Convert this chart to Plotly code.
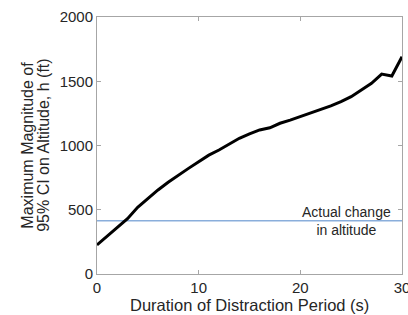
import plotly.graph_objects as go

duration_s = [0, 1, 2, 3, 4, 5, 6, 7, 8, 9, 10, 11, 12, 13, 14, 15, 16, 17, 18, 19, 20, 21, 22, 23, 24, 25, 26, 27, 28, 29, 30]
max_ci_ft = [226, 295, 360, 430, 519, 588, 654, 714, 770, 822, 874, 925, 965, 1010, 1056, 1090, 1121, 1138, 1173, 1198, 1224, 1250, 1276, 1308, 1341, 1380, 1432, 1484, 1556, 1541, 1691]
actual_change_ft = 415
x_ticks = [0, 10, 20, 30]
y_ticks = [0, 500, 1000, 1500, 2000]
y_title_lines = ["Maximum Magnitude of", "95% CI on Altitude, h (ft)"]
x_title = "Duration of Distraction Period (s)"

FONT = "Liberation Sans, Arial"
TXT = "#262626"

fig = go.Figure()
fig.add_trace(go.Scatter(x=[0, 30], y=[actual_change_ft, actual_change_ft], mode="lines",
                         line=dict(color="#8aaedb", width=1.5), showlegend=False))
fig.add_trace(go.Scatter(x=duration_s, y=max_ci_ft, mode="lines",
                         line=dict(color="black", width=3), showlegend=False))

fig.add_annotation(x=24.5, y=actual_change_ft, text="Actual change<br>in altitude", showarrow=False,
                   font=dict(family=FONT, size=14, color=TXT),
                   xanchor="center", yanchor="middle")

for xp, line in zip([-0.229, -0.176], y_title_lines):
    fig.add_annotation(xref="paper", yref="paper", x=xp, y=0.5, text=line, textangle=-90,
                       showarrow=False, xanchor="center", yanchor="middle",
                       font=dict(family=FONT, size=16, color=TXT))

fig.add_annotation(xref="paper", yref="paper", x=0.5, y=-0.122, text=x_title,
                   showarrow=False, xanchor="center", yanchor="middle",
                   font=dict(family=FONT, size=16.5, color=TXT))

axis_common = dict(showgrid=False, zeroline=False, showline=True, linecolor="#a6a6a6", linewidth=1,
                   mirror="ticks", ticks="inside", ticklen=4, tickcolor="#a6a6a6",
                   tickfont=dict(family=FONT, size=15, color=TXT), automargin=False)
fig.update_xaxes(range=[0, 30], tickvals=x_ticks, ticklabeloverflow="allow", **axis_common)
fig.update_yaxes(range=[0, 2000], tickvals=y_ticks, **axis_common)
fig.update_layout(width=408, height=315, margin=dict(l=97, r=6, t=17, b=41, autoexpand=False),
                  plot_bgcolor="white", paper_bgcolor="white")
fig.write_html("out.html", config={"displayModeBar": False},
               post_script="document.body.style.margin='0';document.body.style.overflow='hidden';")
